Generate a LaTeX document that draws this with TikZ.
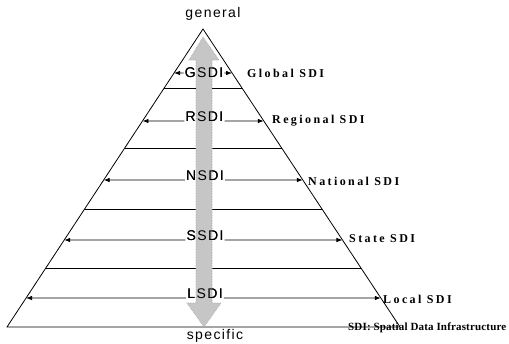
\documentclass[tikz,border=0pt]{standalone}
\usepackage{fontspec}
\newfontfamily\lblsans[LetterSpace=10]{Liberation Sans}
\newfontfamily\lblserif[LetterSpace=20]{Liberation Serif}
\newfontfamily\notefont[LetterSpace=1.5]{Liberation Serif}
\usetikzlibrary{arrows.meta,calc}
\begin{document}
\begin{tikzpicture}[x=1pt,y=-1pt,
  edge/.style={line width=0.8pt},
  lvl/.style={edge,-{Latex[length=6pt,width=4.5pt]}},
  abbr/.style={font=\lblsans\fontsize{14}{14}\selectfont, inner sep=1pt},
  sdiname/.style={font=\lblserif\bfseries\fontsize{12}{12}\selectfont, anchor=west, inner sep=0pt},
  endword/.style={font=\lblsans\fontsize{14}{14}\selectfont, inner sep=0pt},
  flow/.style={fill=gray!45, draw=gray!70, densely dotted, line width=0.6pt}]
\path[fill=white] (0,0) rectangle (509,343);
\useasboundingbox (0,0) rectangle (509,343);

% triangle corners
\coordinate (apex) at (203,29);
\coordinate (bl) at (7,327);
\coordinate (br) at (400,327);

% separator points
\coordinate (s1l) at ($(apex)!0.198!(bl)$);  \coordinate (s1r) at ($(apex)!0.198!(br)$);
\coordinate (s2l) at ($(apex)!0.3993!(bl)$); \coordinate (s2r) at ($(apex)!0.3993!(br)$);
\coordinate (s3l) at ($(apex)!0.604!(bl)$);  \coordinate (s3r) at ($(apex)!0.604!(br)$);
\coordinate (s4l) at ($(apex)!0.802!(bl)$);  \coordinate (s4r) at ($(apex)!0.802!(br)$);

% level arrow ends
\coordinate (gl) at ($(apex)!0.1477!(bl)$); \coordinate (gr) at ($(apex)!0.1477!(br)$);
\coordinate (rl) at ($(apex)!0.3087!(bl)$); \coordinate (rr) at ($(apex)!0.3087!(br)$);
\coordinate (nl) at ($(apex)!0.5067!(bl)$); \coordinate (nr) at ($(apex)!0.5067!(br)$);
\coordinate (sl) at ($(apex)!0.7081!(bl)$); \coordinate (sr) at ($(apex)!0.7081!(br)$);
\coordinate (ll) at ($(apex)!0.9027!(bl)$); \coordinate (lr) at ($(apex)!0.9027!(br)$);

% triangle
\draw[edge, line join=miter] (apex) -- (bl) -- (br) -- cycle;

% separators
\draw[edge] (s1l) -- (s1r);
\draw[edge] (s2l) -- (s2r);
\draw[edge] (s3l) -- (s3r);
\draw[edge] (s4l) -- (s4r);

% labels (positions)
\node[abbr] (gsdi) at (204,73) {GSDI};
\node[abbr,anchor=base] (rsdi) at (204.5,121) {RSDI};
\node[abbr,anchor=base] (nsdi) at (205,180) {NSDI};
\node[abbr,anchor=base] (ssdi) at (205,240) {SSDI};
\node[abbr,anchor=base] (lsdi) at (205,298) {LSDI};

% level arrows
\draw[lvl] (gsdi.west) -- (gl);
\draw[lvl] (gsdi.east) -- (gr);
\draw[lvl] (rsdi.base west) -- (rl);
\draw[lvl] (rsdi.base east) -- (rr);
\draw[lvl] (nsdi.base west) -- (nl);
\draw[lvl] (nsdi.base east) -- (nr);
\draw[lvl] (ssdi.base west) -- (sl);
\draw[lvl] (ssdi.base east) -- (sr);
\draw[lvl] (lsdi.base west) -- (ll);
\draw[lvl] (lsdi.base east) -- (lr);

% big general-specific arrow
\path[flow] (203,37) -- (219,60) -- (212,60) -- (212,303) -- (221,303) -- (204,327)
  -- (187,303) -- (196,303) -- (196,60) -- (189,60) -- cycle;

% labels redrawn above the arrow
\node[abbr] at (gsdi.center) {GSDI};
\node[abbr,anchor=base] at (rsdi.base) {RSDI};
\node[abbr,anchor=base] at (nsdi.base) {NSDI};
\node[abbr,anchor=base] at (ssdi.base) {SSDI};
\node[abbr,anchor=base] at (lsdi.base) {LSDI};

% right names
\node[sdiname] (glob) at (247,73) {Global SDI};
\node[sdiname] (regi) at (272,121) {Regional SDI};
\node[sdiname] (nati) at (308,181) {National SDI};
\node[sdiname] (stat) at (349,239) {State SDI};
\node[sdiname] (loca) at (383,299) {Local SDI};
\node[sdiname, font=\notefont\bfseries\fontsize{11}{11}\selectfont] (note) at (348,328) {SDI: Spatial Data Infrastructure};

% ends
\node[endword] (gen) at (213,14) {general};
\node[endword] (spec) at (215,336) {specific};
\end{tikzpicture}
\end{document}
